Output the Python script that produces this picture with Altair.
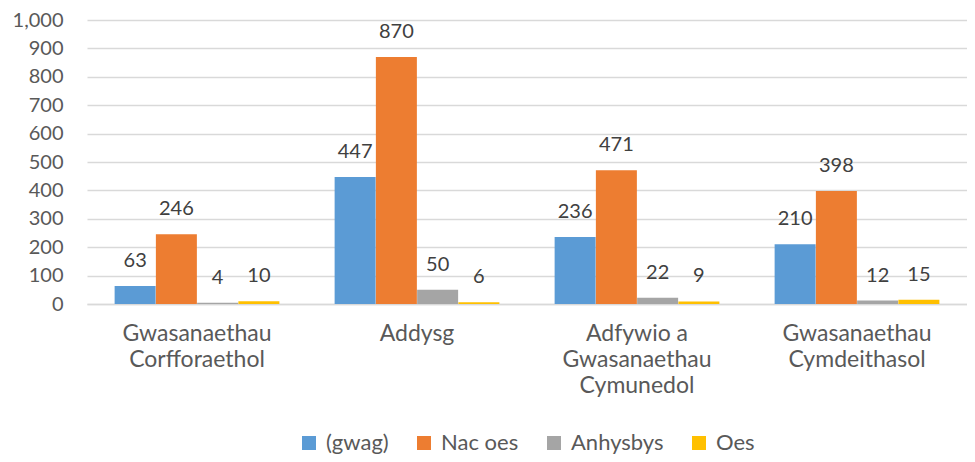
import altair as alt
import pandas as pd

categories = ["Gwasanaethau|Corfforaethol", "Addysg", "Adfywio a|Gwasanaethau|Cymunedol", "Gwasanaethau|Cymdeithasol"]
series = ["(gwag)", "Nac oes", "Anhysbys", "Oes"]
gwag = [63, 447, 236, 210]
nac_oes = [246, 870, 471, 398]
anhysbys = [4, 50, 22, 12]
oes = [10, 6, 9, 15]
colors = ["#5B9BD5", "#ED7D31", "#A5A5A5", "#FFC000"]
y_ticks = [0, 100, 200, 300, 400, 500, 600, 700, 800, 900, 1000]

rows = []
for s, vals in zip(series, [gwag, nac_oes, anhysbys, oes]):
    for c, v in zip(categories, vals):
        rows.append({"Category": c, "Series": s, "Value": v})
df = pd.DataFrame(rows)

FONT = "Lato"

x = alt.X("Category:N", sort=categories,
          scale=alt.Scale(paddingInner=0.25, paddingOuter=0.125),
          axis=alt.Axis(title=None, labelAngle=0, labelExpr="split(datum.label, '|')",
                        labelFontSize=23, labelColor="#595959", labelFont=FONT,
                        labelLineHeight=26, labelPadding=29, ticks=False,
                        domainColor="#D9D9D9", domainWidth=1.5, grid=False,
                        labelBaseline="middle"))
xo = alt.XOffset("Series:N", sort=series)
y = alt.Y("Value:Q", scale=alt.Scale(domain=[0, 1000]),
          axis=alt.Axis(title=None, values=y_ticks, format=",d", labelFontSize=20,
                        labelColor="#595959", labelFont=FONT, labelPadding=24,
                        labelOverlap=False, ticks=False, domain=False,
                        gridColor="#D9D9D9", gridWidth=1.5))

bars = alt.Chart(df).mark_bar(size=41).encode(
    x=x, xOffset=xo, y=y,
    color=alt.Color("Series:N", sort=series,
                    scale=alt.Scale(domain=series, range=colors),
                    legend=alt.Legend(title=None, orient="none", direction="horizontal",
                                      columns=4, legendX=211, legendY=412,
                                      symbolType="square", symbolSize=196,
                                      symbolStrokeWidth=0, labelFontSize=22,
                                      labelFont=FONT, labelColor="#595959",
                                      labelOffset=6, columnPadding=24)),
)

labels = alt.Chart(df).mark_text(dy=-19, baseline="alphabetic", fontSize=20,
                                 font=FONT, color="#404040").encode(
    x=x, xOffset=xo, y=y,
    text=alt.Text("Value:Q", format="d"),
)

chart = (bars + labels).properties(
    width=880, height=284,
    autosize=alt.AutoSizeParams(type="none"),
    padding={"left": 79, "top": 12, "right": 0, "bottom": 150},
).configure_view(stroke=None)

chart.save("out.html", embed_options={"renderer": "svg", "actions": False})
